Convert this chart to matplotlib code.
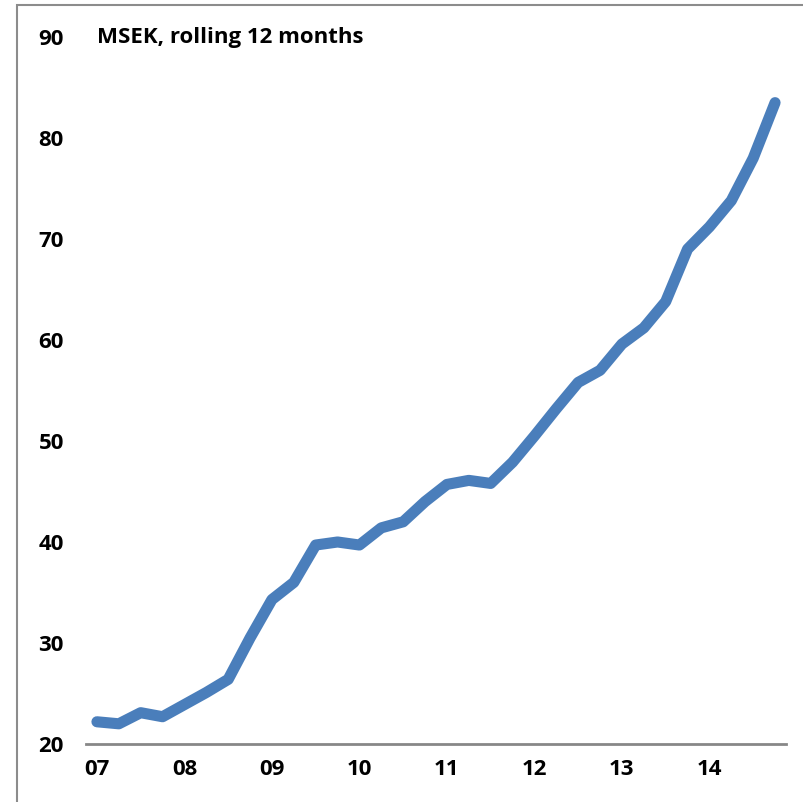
import numpy as np
import matplotlib.pyplot as plt
from matplotlib.patches import Rectangle

plt.rcParams['font.family'] = ['Open Sans', 'DejaVu Sans']

# kvartalsdata 2007Q1 - 2014Q4, MSEK rullande 12 man
quarters = [f"{y:02d}Q{q}" for y in range(7, 15) for q in range(1, 5)]
values = [22.2, 22.0, 23.1, 22.7, 23.9, 25.1, 26.4, 30.5,
          34.3, 36.0, 39.7, 40.0, 39.7, 41.4, 42.0, 44.0,
          45.7, 46.1, 45.8, 47.9, 50.5, 53.2, 55.8, 57.0,
          59.6, 61.2, 63.8, 69.0, 71.2, 73.8, 78.0, 83.5]
year_labels = ["07", "08", "09", "10", "11", "12", "13", "14"]
title = "MSEK, rolling 12 months"
fs = 16

fig = plt.figure(figsize=(8.04, 8.02), dpi=100)
ax = fig.add_axes([86 / 804, 1 - 744 / 802, 700 / 804, (744 - 37) / 802])

x = np.arange(len(values))
ax.plot(x, values, color="#4A7EBB", lw=8, solid_capstyle="round",
        solid_joinstyle="round")

ax.set_xlim(-0.5, len(values) - 0.5)
ax.set_ylim(20, 90)
ax.set_yticks(range(20, 91, 10))
ax.set_yticklabels([str(v) for v in range(20, 91, 10)],
                   fontsize=fs, fontweight="bold")
ax.set_xticks(np.arange(0, len(values), 4))
ax.set_xticklabels(year_labels, fontsize=fs, fontweight="bold")
ax.tick_params(axis="y", length=0, pad=16)
ax.tick_params(axis="x", length=0, pad=11)

for s in ["top", "right", "left"]:
    ax.spines[s].set_visible(False)
ax.spines["bottom"].set_color("#878787")
ax.spines["bottom"].set_linewidth(2)
ax.spines["bottom"].set_zorder(0)

ax.text(0, 90, title, fontsize=fs, fontweight="bold",
        ha="left", va="center", transform=ax.transData)

# ram runt diagrammet
fig.patches.append(Rectangle((17 / 804, -0.05), 1.0, 1 - 5 / 802 + 0.05,
                             transform=fig.transFigure, fill=False,
                             edgecolor="#8c8c8c", lw=1.5))

fig.savefig("out.png", dpi=100)
